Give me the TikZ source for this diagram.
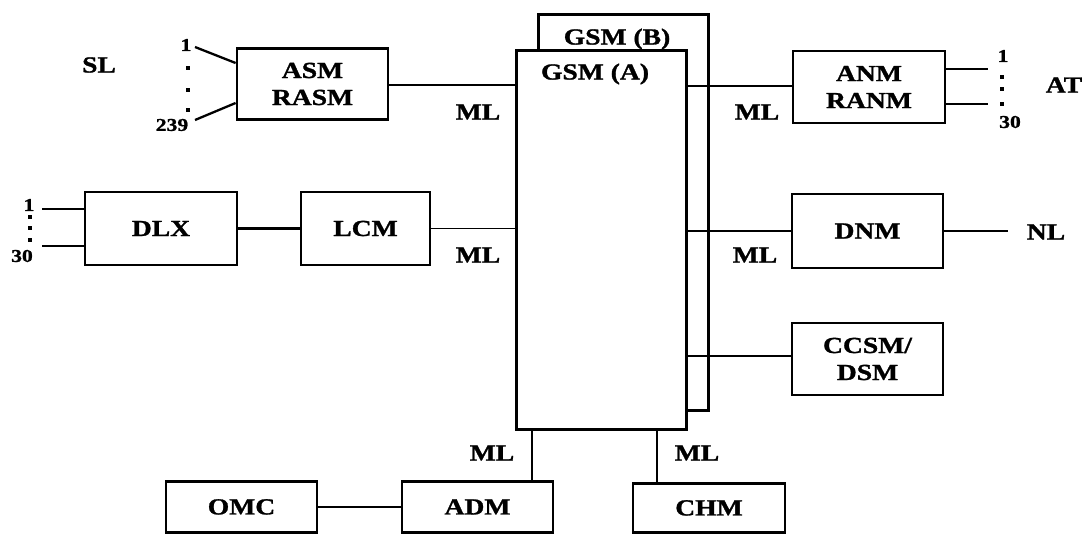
\documentclass[tikz,border=0pt]{standalone}
\usepackage{fontspec}
\newfontfamily\lbl{Liberation Serif}[FakeStretch=1.2,BoldFeatures={FakeBold=1.2}]
\begin{document}
\begin{tikzpicture}[x=1pt,y=-1pt,
  blk/.style={draw,line width=2.8pt,fill=white,inner sep=0pt,align=center,
    font=\lbl\bfseries\fontsize{23}{27}\selectfont},
  txt/.style={inner sep=0pt,font=\lbl\bfseries\fontsize{23}{27}\selectfont},
  num/.style={inner sep=0pt,font=\lbl\bfseries\fontsize{18}{20}\selectfont},
  conn/.style={line width=2.3pt},
  thin/.style={line width=1.7pt},
  dotm/.style={fill=black,inner sep=0pt,minimum width=3.5pt,minimum height=4.5pt}]
\useasboundingbox (0,0) rectangle (1087,533);
% GSM planes
\node[blk,minimum width=170pt,minimum height=396pt,anchor=north west] (gsmb) at (537,13) {};
\node[txt] (gsmbt) at (617,39) {GSM (B)};
\node[blk,minimum width=170pt,minimum height=379pt,anchor=north west] (gsma) at (515,49) {};
\node[txt] (gsmat) at (595,74) {GSM (A)};
% boxes
\node[blk,minimum width=151pt,minimum height=71pt] (asm) at (312.5,84) {ASM\\RASM};
\node[blk,minimum width=152pt,minimum height=72pt] (anm) at (869,87) {ANM\\RANM};
\node[blk,minimum width=152pt,minimum height=73pt] (dlx) at (161,228.5) {DLX};
\node[blk,minimum width=129pt,minimum height=73pt] (lcm) at (365.5,228.5) {LCM};
\node[blk,minimum width=151pt,minimum height=74pt] (dnm) at (867.5,231) {DNM};
\node[blk,minimum width=151pt,minimum height=72pt] (ccsm) at (867.5,359) {CCSM/\\DSM};
\node[blk,minimum width=151pt,minimum height=51pt,anchor=north] (omc) at (241.5,480) {OMC};
\node[blk,minimum width=151pt,minimum height=51pt,anchor=north] (adm) at (477.5,480) {ADM};
\node[blk,minimum width=152pt,minimum height=49pt,anchor=north] (chm) at (709,482) {CHM};
% labels
\node[txt] (sl) at (99,65) {SL};
\node[txt] (at) at (1064,85) {AT};
\node[txt] (nl) at (1046,232) {NL};
\node[txt] (ml1) at (478,112) {ML};
\node[txt] (ml2) at (757,112) {ML};
\node[txt] (ml3) at (478,255) {ML};
\node[txt] (ml4) at (755,255) {ML};
\node[txt] (ml5) at (492,453) {ML};
\node[txt] (ml6) at (697,453) {ML};
\node[num] (n1a) at (186,45) {1};
\node[num] (n239) at (172,125) {239};
\node[num] (n1b) at (1003,56) {1};
\node[num] (n30b) at (1010,122) {30};
\node[num] (n1c) at (29,205) {1};
\node[num] (n30c) at (22,256) {30};
% dots
\foreach \y/\n in {68/a,90/b,110/c} \node[dotm] (dl\n) at (188,\y) {};
\foreach \y/\n in {77/a,89/b,104/c} \node[dotm] (dr\n) at (1002,\y) {};
\foreach \y/\n in {217/a,228/b,240/c} \node[dotm] (dd\n) at (30,\y) {};
% free ends
\coordinate (sla) at (195,47);
\coordinate (slb) at (195,120);
\coordinate (ata) at (988,69);
\coordinate (atb) at (988,104);
\coordinate (dla) at (42,209);
\coordinate (dlb) at (42,246);
\coordinate (nle) at (1008,231);
\coordinate (admx) at (532,480);
\coordinate (chmx) at (657,482);
% connectors
\draw[conn] (sla) -- (asm.west |- 0,63);
\draw[conn] (slb) -- (asm.west |- 0,103);
\draw[conn] (asm.east |- 0,85) -- (gsma.west |- 0,85);
\draw[conn] (gsma.east |- 0,86) -- (anm.west |- 0,86);
\draw[thin] (anm.east |- ata) -- (ata);
\draw[thin] (anm.east |- atb) -- (atb);
\draw[conn] (dla) -- (dlx.west |- dla);
\draw[conn] (dlb) -- (dlx.west |- dlb);
\draw[conn] (dlx) -- (lcm);
\draw[thin] (lcm.east) -- (lcm.east -| gsma.west);
\draw[conn] (dnm.west -| gsma.east) -- (dnm.west);
\draw[thin] (dnm.east) -- (nle);
\draw[conn] (gsma.east |- 0,356) -- (ccsm.west |- 0,356);
\draw[thin] (omc.east |- 0,507) -- (adm.west |- 0,507);
\draw[thin] (admx |- gsma.south) -- (admx);
\draw[thin] (chmx |- gsma.south) -- (chmx);
\end{tikzpicture}
\end{document}
